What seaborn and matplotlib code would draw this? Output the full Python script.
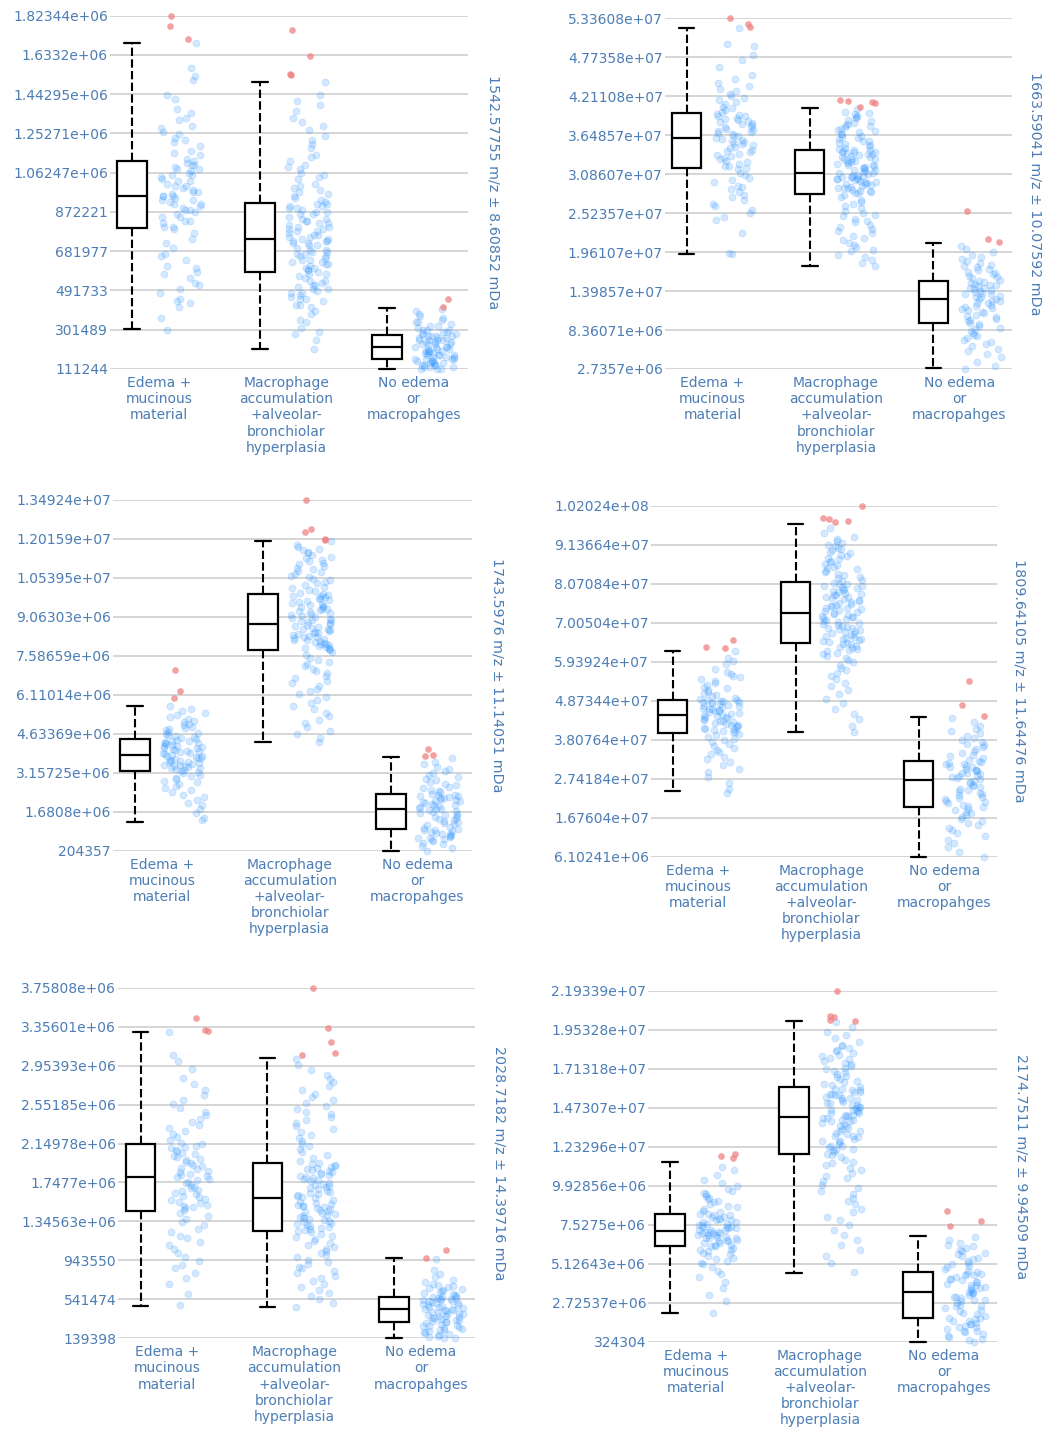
import numpy as np
import pandas as pd
import matplotlib
matplotlib.use("Agg")
import matplotlib.pyplot as plt
import seaborn as sns

# ---------------------------------------------------------------- data ----
GROUPS = [
    "Edema +\nmucinous\nmaterial",
    "Macrophage\naccumulation\n+alveolar-\nbronchiolar\nhyperplasia",
    "No edema\nor\nmacropahges",
]

# Panel 1 -- 1542.57755 m/z (intensities in units of 1e4)
P1_LABEL = "1542.57755 m/z \u00b1 8.60852 mDa"
P1_UNIT = 1e4
P1_TICKS = ["111244", "301489", "491733", "681977", "872221",
            "1.06247e+06", "1.25271e+06", "1.44295e+06", "1.6332e+06", "1.82344e+06"]
P1_BOX_EDEMA = [30.4, 79.3, 95.0, 111.8, 169.3]
P1_BOX_MACRO = [20.7, 58.3, 74.0, 91.7, 150.2]
P1_BOX_NOED = [11.1244, 16.12, 21.93, 27.45, 40.53]
P1_EDEMA = [30, 36, 41, 43, 44, 45, 48, 50, 52, 53, 55, 57, 58, 60, 61, 64, 66, 67, 70, 72, 74, 77,
            79, 80, 80, 82, 83, 83, 85, 85, 86, 87, 88, 88, 89, 90, 91, 91, 92, 93, 93, 94, 95, 95, 95,
            96, 97, 97, 98, 99, 100, 100, 101, 102, 102, 103, 104, 105, 105, 106, 107, 108, 108, 109,
            110, 110, 111, 112, 113, 115, 116, 117, 119, 121, 122, 123, 125, 126, 128, 129, 132, 133,
            135, 137, 142, 144, 151, 153, 157, 169]
P1_MACRO = [21, 25, 28, 29, 31, 34, 35, 38, 39, 41, 42, 42, 44, 45, 45, 46, 47, 48, 48, 49, 50, 50,
            51, 52, 52, 53, 54, 54, 55, 56, 57, 57, 58, 59, 59, 60, 60, 61, 62, 62, 63, 63, 64, 64, 65,
            66, 66, 67, 67, 68, 68, 69, 69, 70, 71, 71, 72, 72, 73, 73, 73, 74, 74, 75, 75, 76, 76, 77,
            78, 78, 79, 79, 80, 80, 81, 82, 82, 83, 83, 84, 84, 85, 86, 86, 87, 87, 88, 89, 89, 90, 90,
            91, 91, 92, 93, 94, 95, 96, 97, 98, 99, 100, 101, 103, 104, 105, 106, 108, 109, 110, 112,
            114, 115, 118, 120, 122, 124, 127, 129, 131, 133, 136, 139, 141, 144, 150]
P1_NOED = [11, 11, 11, 12, 12, 12, 13, 13, 13, 13, 14, 14, 14, 15, 15, 15, 15, 16, 16, 16,
           16, 17, 17, 17, 18, 18, 18, 18, 19, 19, 19, 20, 20, 20, 20, 21, 21, 21, 22, 22,
           22, 22, 23, 23, 23, 23, 24, 24, 24, 25, 25, 25, 25, 26, 26, 26, 27, 27, 27, 27,
           28, 28, 28, 29, 29, 30, 30, 30, 31, 32, 32, 33, 34, 34, 35, 36, 37, 38, 39, 40]
P1_OUT_EDEMA = [182.34, 177.4, 171.0]
P1_OUT_MACRO = [175.4, 162.8, 153.6, 154.1]
P1_OUT_NOED = [41.0, 45.1]

# Panel 2 -- 1663.59041 m/z (intensities in units of 1e5)
P2_LABEL = "1663.59041 m/z \u00b1 10.07592 mDa"
P2_UNIT = 1e5
P2_TICKS = ["2.7357e+06", "8.36071e+06", "1.39857e+07", "1.96107e+07", "2.52357e+07",
            "3.08607e+07", "3.64857e+07", "4.21108e+07", "4.77358e+07", "5.33608e+07"]
P2_BOX_EDEMA = [193.4, 318.0, 360.4, 396.5, 519.2]
P2_BOX_MACRO = [176.0, 280.0, 310.7, 343.5, 403.7]
P2_BOX_NOED = [28.4, 93.3, 128.4, 154.4, 208.8]
P2_EDEMA = [194, 195, 223, 242, 247, 253, 257, 262, 266, 271, 276, 278, 283, 287, 290, 292, 297, 300,
            303, 308, 311, 316, 318, 320, 321, 324, 326, 327, 330, 332, 335, 336, 338, 341, 342, 344,
            347, 348, 350, 352, 354, 355, 357, 358, 360, 361, 363, 365, 366, 368, 369, 371, 372, 374,
            376, 377, 379, 381, 382, 384, 385, 387, 388, 390, 392, 393, 394, 396, 399, 401, 404, 406,
            410, 413, 415, 419, 421, 425, 428, 431, 436, 440, 446, 452, 463, 474, 480, 493, 496, 519]
P2_MACRO = [176, 181, 184, 189, 192, 197, 199, 203, 207, 209, 213, 217, 219, 223, 226, 230, 232, 235,
            239, 241, 244, 248, 250, 253, 256, 260, 262, 265, 269, 271, 275, 278, 281, 281, 283, 284,
            285, 286, 288, 289, 289, 290, 292, 293, 294, 295, 296, 297, 298, 299, 300, 301, 301, 302,
            303, 304, 305, 305, 306, 307, 308, 309, 310, 311, 312, 314, 315, 315, 317, 318, 319, 320,
            322, 322, 324, 325, 326, 327, 328, 330, 330, 331, 333, 334, 335, 336, 337, 338, 339, 340,
            340, 341, 342, 343, 343, 345, 347, 349, 350, 352, 354, 356, 357, 359, 361, 362, 364, 366,
            367, 369, 371, 372, 374, 376, 378, 379, 381, 383, 385, 387, 389, 391, 393, 395, 397, 399,
            402]
P2_NOED = [27, 31, 38, 44, 49, 53, 56, 60, 63, 66, 69, 72, 75, 77, 80, 82, 85, 87, 90, 92,
           94, 96, 98, 100, 102, 104, 106, 108, 110, 112, 114, 115, 117, 119, 120, 122, 123, 125, 126, 128,
           129, 131, 132, 133, 135, 136, 137, 139, 140, 141, 143, 144, 145, 147, 148, 149, 150, 151, 153, 154,
           156, 158, 160, 162, 164, 166, 168, 170, 172, 174, 176, 178, 181, 183, 186, 189, 192, 196, 200, 205]
P2_OUT_EDEMA = [521.5, 534.5, 525.4]
P2_OUT_MACRO = [405.1, 413.2, 410.9, 415.7, 414.7]
P2_OUT_NOED = [255.9, 211.1, 215.0]

# Panel 3 -- 1743.5976 m/z (intensities in units of 1e4)
P3_LABEL = "1743.5976 m/z \u00b1 11.14051 mDa"
P3_UNIT = 1e4
P3_TICKS = ["204357", "1.6808e+06", "3.15725e+06", "4.63369e+06", "6.11014e+06",
            "7.58659e+06", "9.06303e+06", "1.05395e+07", "1.20159e+07", "1.34924e+07"]
P3_BOX_EDEMA = [128.0, 323.6, 383.0, 443.7, 569.9]
P3_BOX_MACRO = [431.2, 779.7, 880.5, 993.1, 1193.9]
P3_BOX_NOED = [20.4357, 101.5, 178.4, 234.1, 376.6]
P3_EDEMA = [135, 143, 163, 179, 192, 203, 214, 224, 233, 242, 250, 258, 265, 272, 279, 285, 291, 297,
            303, 309, 314, 319, 324, 327, 330, 332, 335, 337, 340, 342, 345, 347, 350, 352, 355, 357,
            360, 362, 365, 367, 370, 372, 375, 378, 381, 384, 387, 389, 392, 395, 397, 400, 403, 405,
            408, 411, 413, 416, 419, 421, 424, 427, 429, 432, 435, 437, 440, 443, 447, 451, 455, 459,
            463, 467, 472, 476, 481, 486, 491, 496, 501, 507, 513, 519, 526, 533, 541, 549, 558, 570]
P3_MACRO = [433, 448, 462, 475, 489, 503, 517, 530, 543, 556, 568, 580, 592, 603, 614, 625, 635, 645,
            655, 665, 674, 683, 692, 701, 710, 719, 727, 735, 743, 752, 761, 772, 781, 784, 787, 790,
            793, 796, 799, 802, 805, 808, 811, 814, 817, 820, 823, 826, 829, 832, 835, 838, 841, 844,
            847, 850, 853, 856, 859, 862, 865, 868, 871, 874, 878, 882, 886, 889, 893, 896, 900, 903,
            907, 910, 914, 917, 921, 924, 928, 931, 935, 938, 942, 945, 949, 952, 956, 959, 963, 966,
            970, 973, 977, 980, 984, 987, 990, 992, 997, 1003, 1009, 1015, 1021, 1027, 1033, 1039,
            1045, 1051, 1057, 1063, 1069, 1075, 1081, 1087, 1093, 1099, 1105, 1111, 1117, 1123, 1129,
            1135, 1141, 1147, 1153, 1159, 1165, 1172, 1180, 1192]
P3_NOED = [21, 30, 38, 45, 51, 56, 60, 64, 67, 70, 73, 76, 79, 82, 85, 88, 91, 94, 97, 100,
           104, 108, 112, 116, 120, 124, 128, 132, 136, 140, 144, 148, 152, 156, 160, 164, 168, 171, 174, 177,
           180, 183, 186, 189, 192, 195, 198, 201, 204, 207, 210, 213, 216, 219, 222, 225, 227, 229, 231, 233,
           237, 242, 247, 252, 257, 263, 269, 275, 281, 287, 293, 300, 307, 314, 322, 330, 339, 348, 358, 370]
P3_OUT_EDEMA = [705.1, 626.7, 597.9]
P3_OUT_MACRO = [1349.24, 1229.1, 1239.3, 1197.7, 1200.3]
P3_OUT_NOED = [380.4, 404.6, 383.0]

# Panel 4 -- 1809.64105 m/z (intensities in units of 1e5)
P4_LABEL = "1809.64105 m/z \u00b1 11.64476 mDa"
P4_UNIT = 1e5
P4_TICKS = ["6.10241e+06", "1.67604e+07", "2.74184e+07", "3.80764e+07", "4.87344e+07",
            "5.93924e+07", "7.00504e+07", "8.07084e+07", "9.13664e+07", "1.02024e+08"]
P4_BOX_EDEMA = [241.4, 399.9, 448.3, 490.1, 624.0]
P4_BOX_MACRO = [401.0, 645.8, 727.8, 810.9, 970.2]
P4_BOX_NOED = [61.0241, 197.7, 270.6, 323.4, 443.6]
P4_EDEMA = [236, 245, 262, 278, 293, 302, 311, 319, 327, 334, 341, 347, 353, 359, 364, 369, 374, 379,
            384, 389, 393, 397, 401, 403, 405, 407, 409, 411, 414, 416, 418, 420, 422, 424, 427, 429,
            431, 433, 435, 437, 440, 442, 444, 446, 448, 450, 452, 454, 456, 458, 460, 462, 464, 466,
            468, 470, 472, 474, 476, 478, 480, 482, 484, 485, 486, 487, 488, 489, 492, 496, 500, 504,
            508, 512, 516, 521, 526, 531, 536, 541, 546, 551, 556, 561, 567, 575, 588, 597, 605, 622]
P4_MACRO = [401, 418, 436, 452, 466, 480, 493, 505, 516, 527, 537, 546, 555, 563, 571, 578, 585, 592,
            598, 604, 609, 614, 619, 623, 626, 629, 632, 635, 638, 641, 643, 645, 647, 650, 652, 655,
            657, 660, 662, 665, 667, 670, 672, 675, 677, 680, 682, 685, 687, 690, 692, 695, 697, 700,
            702, 705, 707, 710, 712, 715, 717, 720, 722, 725, 727, 730, 732, 735, 737, 740, 742, 745,
            747, 750, 752, 755, 757, 760, 762, 765, 767, 770, 772, 775, 777, 780, 782, 785, 787, 790,
            792, 795, 797, 800, 802, 805, 807, 810, 814, 818, 822, 826, 830, 834, 838, 842, 846, 850,
            854, 858, 862, 866, 870, 874, 878, 882, 886, 890, 894, 898, 902, 906, 910, 914, 918, 923,
            929, 936, 945, 958]
P4_NOED = [61, 74, 87, 98, 108, 117, 125, 133, 140, 147, 153, 159, 165, 170, 175, 180, 184, 188, 192, 196,
           199, 203, 207, 211, 214, 218, 222, 225, 229, 233, 236, 240, 244, 247, 251, 255, 258, 262, 266, 269,
           272, 275, 278, 281, 283, 286, 289, 291, 294, 297, 299, 302, 305, 307, 310, 313, 315, 318, 320, 322,
           325, 330, 335, 340, 345, 350, 355, 360, 365, 370, 375, 380, 386, 392, 398, 404, 411, 419, 428, 440]
P4_OUT_EDEMA = [632.2, 653.2, 634.9]
P4_OUT_MACRO = [1020.24, 976.5, 983.1, 979.2, 987.5]
P4_OUT_NOED = [542.0, 475.6, 446.4]

# Panel 5 -- 2028.7182 m/z (intensities in units of 1e4)
P5_LABEL = "2028.7182 m/z \u00b1 14.39716 mDa"
P5_UNIT = 1e4
P5_TICKS = ["139398", "541474", "943550", "1.34563e+06", "1.7477e+06",
            "2.14978e+06", "2.55185e+06", "2.95393e+06", "3.35601e+06", "3.75808e+06"]
P5_BOX_EDEMA = [47.3, 145.6, 180.7, 214.2, 330.4]
P5_BOX_MACRO = [45.9, 125.0, 159.1, 194.6, 303.5]
P5_BOX_NOED = [13.9398, 31.1, 43.9, 56.9, 96.5]
P5_EDEMA = [48, 60, 70, 76, 81, 86, 90, 94, 98, 102, 106, 110, 113, 117, 120, 124, 127, 131, 134, 137,
            140, 143, 146, 148, 149, 151, 152, 154, 155, 157, 158, 160, 161, 163, 164, 166, 167, 169,
            170, 172, 174, 175, 177, 178, 180, 181, 183, 184, 186, 187, 189, 190, 192, 193, 195, 196,
            198, 199, 201, 202, 204, 205, 207, 208, 210, 211, 212, 214, 216, 219, 222, 225, 228, 231,
            234, 237, 240, 244, 248, 252, 256, 260, 265, 270, 276, 283, 292, 300, 306, 330]
P5_MACRO = [46, 50, 54, 58, 61, 64, 67, 70, 73, 76, 78, 81, 83, 86, 88, 91, 93, 95, 98, 100, 102, 104,
            106, 108, 110, 112, 114, 116, 118, 120, 122, 124, 125, 126, 127, 128, 129, 130, 131, 132,
            133, 134, 135, 136, 137, 138, 139, 140, 141, 142, 143, 144, 145, 146, 147, 148, 149, 150,
            151, 152, 153, 154, 155, 157, 159, 160, 161, 162, 163, 164, 165, 166, 168, 169, 170, 171,
            172, 173, 174, 176, 177, 178, 179, 180, 181, 182, 184, 185, 186, 187, 188, 189, 190, 191,
            192, 193, 194, 195, 197, 200, 203, 206, 209, 212, 215, 218, 221, 224, 227, 230, 233, 236,
            239, 242, 245, 248, 251, 254, 257, 260, 263, 266, 270, 274, 278, 282, 286, 291, 296, 302]
P5_NOED = [14, 14, 15, 16, 17, 18, 19, 20, 21, 22, 23, 24, 25, 26, 27, 27, 28, 29, 30, 31,
           31, 32, 33, 33, 34, 35, 35, 36, 37, 37, 38, 39, 39, 40, 41, 41, 42, 43, 43, 44,
           44, 45, 46, 46, 47, 48, 48, 49, 50, 50, 51, 52, 52, 53, 54, 54, 55, 56, 56, 57,
           57, 58, 59, 60, 61, 62, 63, 64, 65, 66, 67, 68, 69, 70, 72, 74, 77, 80, 84, 96]
P5_OUT_EDEMA = [331.1, 344.2, 332.1]
P5_OUT_MACRO = [375.808, 334.5, 320.0, 306.3, 308.7]
P5_OUT_NOED = [97.1, 105.1]

# Panel 6 -- 2174.7511 m/z (intensities in units of 1e5)
P6_LABEL = "2174.7511 m/z \u00b1 9.94509 mDa"
P6_UNIT = 1e5
P6_TICKS = ["324304", "2.72537e+06", "5.12643e+06", "7.5275e+06", "9.92856e+06",
            "1.23296e+07", "1.47307e+07", "1.71318e+07", "1.95328e+07", "2.19339e+07"]
P6_BOX_EDEMA = [20.73, 62.34, 71.39, 81.86, 113.69]
P6_BOX_MACRO = [45.72, 118.62, 141.77, 159.87, 200.68]
P6_BOX_NOED = [3.24304, 18.02, 33.65, 46.34, 68.32]
P6_EDEMA = [21, 28, 32, 36, 40, 43, 45, 47, 49, 51, 52, 53, 54, 55, 56, 57, 58, 59, 60, 60, 61, 62,
            62, 63, 63, 64, 64, 65, 65, 66, 66, 67, 67, 67, 68, 68, 69, 69, 69, 70, 70, 70, 71, 71, 71,
            72, 72, 72, 73, 73, 74, 74, 74, 75, 75, 76, 76, 77, 77, 78, 78, 79, 79, 80, 80, 81, 81, 82,
            82, 83, 84, 85, 86, 87, 88, 89, 90, 91, 92, 93, 94, 95, 96, 97, 99, 101, 103, 106, 109, 111]
P6_MACRO = [46, 52, 56, 60, 63, 66, 69, 72, 75, 78, 80, 83, 85, 88, 90, 92, 94, 96, 98, 100, 102, 104,
            105, 107, 109, 110, 112, 113, 114, 115, 117, 118, 119, 120, 121, 121, 122, 123, 124, 124,
            125, 126, 127, 127, 128, 129, 130, 130, 131, 132, 133, 133, 134, 135, 136, 136, 137, 138,
            139, 139, 140, 140, 141, 141, 142, 142, 143, 143, 144, 144, 145, 145, 146, 146, 147, 148,
            148, 149, 149, 150, 150, 151, 152, 152, 153, 153, 154, 155, 155, 156, 156, 157, 157, 158,
            158, 159, 159, 160, 161, 162, 163, 164, 165, 166, 167, 168, 169, 170, 171, 172, 173, 174,
            175, 176, 177, 178, 179, 180, 181, 182, 183, 184, 185, 186, 188, 190, 192, 194, 197, 200]
P6_NOED = [3, 4, 5, 6, 7, 8, 9, 10, 10, 11, 12, 12, 13, 14, 14, 15, 16, 16, 17, 18,
           18, 19, 20, 21, 22, 23, 24, 25, 25, 26, 27, 28, 29, 29, 30, 31, 31, 32, 33, 33,
           34, 34, 35, 36, 36, 37, 38, 38, 39, 40, 40, 41, 42, 42, 43, 44, 44, 45, 45, 46,
           47, 48, 49, 50, 51, 52, 53, 54, 55, 56, 57, 58, 59, 60, 61, 62, 63, 64, 66, 68]
P6_OUT_EDEMA = [116.15, 118.61, 117.75]
P6_OUT_MACRO = [219.339, 200.5, 203.33, 201.3, 203.94]
P6_OUT_NOED = [83.89, 74.66, 77.74]

PANELS = [
    dict(label=P1_LABEL, unit=P1_UNIT, ticks=P1_TICKS,
         boxes=[P1_BOX_EDEMA, P1_BOX_MACRO, P1_BOX_NOED],
         points=[P1_EDEMA, P1_MACRO, P1_NOED],
         outliers=[P1_OUT_EDEMA, P1_OUT_MACRO, P1_OUT_NOED]),
    dict(label=P2_LABEL, unit=P2_UNIT, ticks=P2_TICKS,
         boxes=[P2_BOX_EDEMA, P2_BOX_MACRO, P2_BOX_NOED],
         points=[P2_EDEMA, P2_MACRO, P2_NOED],
         outliers=[P2_OUT_EDEMA, P2_OUT_MACRO, P2_OUT_NOED]),
    dict(label=P3_LABEL, unit=P3_UNIT, ticks=P3_TICKS,
         boxes=[P3_BOX_EDEMA, P3_BOX_MACRO, P3_BOX_NOED],
         points=[P3_EDEMA, P3_MACRO, P3_NOED],
         outliers=[P3_OUT_EDEMA, P3_OUT_MACRO, P3_OUT_NOED]),
    dict(label=P4_LABEL, unit=P4_UNIT, ticks=P4_TICKS,
         boxes=[P4_BOX_EDEMA, P4_BOX_MACRO, P4_BOX_NOED],
         points=[P4_EDEMA, P4_MACRO, P4_NOED],
         outliers=[P4_OUT_EDEMA, P4_OUT_MACRO, P4_OUT_NOED]),
    dict(label=P5_LABEL, unit=P5_UNIT, ticks=P5_TICKS,
         boxes=[P5_BOX_EDEMA, P5_BOX_MACRO, P5_BOX_NOED],
         points=[P5_EDEMA, P5_MACRO, P5_NOED],
         outliers=[P5_OUT_EDEMA, P5_OUT_MACRO, P5_OUT_NOED]),
    dict(label=P6_LABEL, unit=P6_UNIT, ticks=P6_TICKS,
         boxes=[P6_BOX_EDEMA, P6_BOX_MACRO, P6_BOX_NOED],
         points=[P6_EDEMA, P6_MACRO, P6_NOED],
         outliers=[P6_OUT_EDEMA, P6_OUT_MACRO, P6_OUT_NOED]),
]

# -------------------------------------------------------------- layout ----
W, H = 1058, 1444
# plot-area rectangles in pixels: left, top, right, bottom
RECTS = [
    (110.0, 15.7, 468.0, 369.0),
    (665.0, 18.3, 1011.7, 369.0),
    (113.0, 500.0, 471.7, 850.7),
    (651.0, 505.7, 996.7, 856.7),
    (118.3, 987.7, 475.0, 1338.3),
    (648.3, 990.7, 996.7, 1341.7),
]
SIDE_LABEL_X = [493.0, 1035.0, 497.7, 1020.0, 500.0, 1021.7]

TEXT_COLOR = "#4c7db5"
POINT_COLOR = "#2b93ff"
OUTLIER_COLOR = "#ee7f7f"
GRID_COLOR = "#d2d2d2"
BOX_SHIFT = 0.19
XLIM = (-0.365, 2.445)

sns.set_theme(style="white")
plt.rcParams["font.family"] = ["DejaVu Sans"]

fig = plt.figure(figsize=(W / 100, H / 100), dpi=100)
fig.patch.set_facecolor("white")
np.random.seed(11)

for spec, (l, t, r, b), side_x in zip(PANELS, RECTS, SIDE_LABEL_X):
    ax = fig.add_axes([l / W, 1 - b / H, (r - l) / W, (b - t) / H])
    ax.set_facecolor("white")
    unit = spec["unit"]

    # jittered raw measurements, to the right of each box
    pts = pd.DataFrame(
        [(i + BOX_SHIFT, v * unit) for i, vals in enumerate(spec["points"]) for v in vals],
        columns=["pos", "value"])
    sns.stripplot(data=pts, x="pos", y="value", native_scale=True, orient="x",
                  jitter=0.165, color=POINT_COLOR, alpha=0.2, size=5.0,
                  linewidth=0.6, edgecolor=POINT_COLOR, ax=ax, zorder=3)

    # suspected outliers
    outs = pd.DataFrame(
        [(i + BOX_SHIFT, v * unit) for i, vals in enumerate(spec["outliers"]) for v in vals],
        columns=["pos", "value"])
    sns.stripplot(data=outs, x="pos", y="value", native_scale=True, orient="x",
                  jitter=0.165, color=OUTLIER_COLOR, alpha=0.72, size=4.8,
                  linewidth=0, ax=ax, zorder=4)

    # box summaries, to the left of each point cloud
    stats = [dict(whislo=s[0] * unit, q1=s[1] * unit, med=s[2] * unit,
                  q3=s[3] * unit, whishi=s[4] * unit, fliers=[])
             for s in spec["boxes"]]
    parts = ax.bxp(stats, positions=[i - BOX_SHIFT for i in range(3)], widths=0.235,
                   capwidths=0.125, showfliers=False, patch_artist=True, manage_ticks=False,
                   boxprops=dict(facecolor="white", edgecolor="black", linewidth=1.6),
                   whiskerprops=dict(color="black", linewidth=1.5, linestyle=(0, (4, 1.6))),
                   capprops=dict(color="black", linewidth=1.6),
                   medianprops=dict(color="black", linewidth=1.6))
    for group in parts.values():
        for art in group:
            art.set_zorder(5)
            art.set_clip_on(False)
    for coll in ax.collections:
        coll.set_clip_on(False)

    tick_vals = [float(s) for s in spec["ticks"]]
    ax.set_ylim(tick_vals[0], tick_vals[-1])
    ax.set_yticks(tick_vals)
    ax.set_yticklabels(spec["ticks"])
    ax.set_xlim(*XLIM)
    ax.set_xticks([i + 0.02 for i in range(3)])
    ax.set_xticklabels(GROUPS, linespacing=1.2)
    ax.set_xlabel("")
    ax.set_ylabel("")
    ax.grid(axis="y", color=GRID_COLOR, linewidth=1.3)
    ax.grid(axis="x", visible=False)
    ax.set_axisbelow(True)
    ax.tick_params(axis="y", length=0, pad=1.5, labelsize=10, labelcolor=TEXT_COLOR)
    ax.tick_params(axis="x", length=0, pad=5, labelsize=10, labelcolor=TEXT_COLOR)
    for sp in ax.spines.values():
        sp.set_visible(False)

    fig.text(side_x / W, 1 - (t + b) / 2 / H, spec["label"], rotation=270,
             ha="center", va="center", color=TEXT_COLOR, fontsize=10.3)

fig.savefig("out.png", dpi=100, facecolor="white")
